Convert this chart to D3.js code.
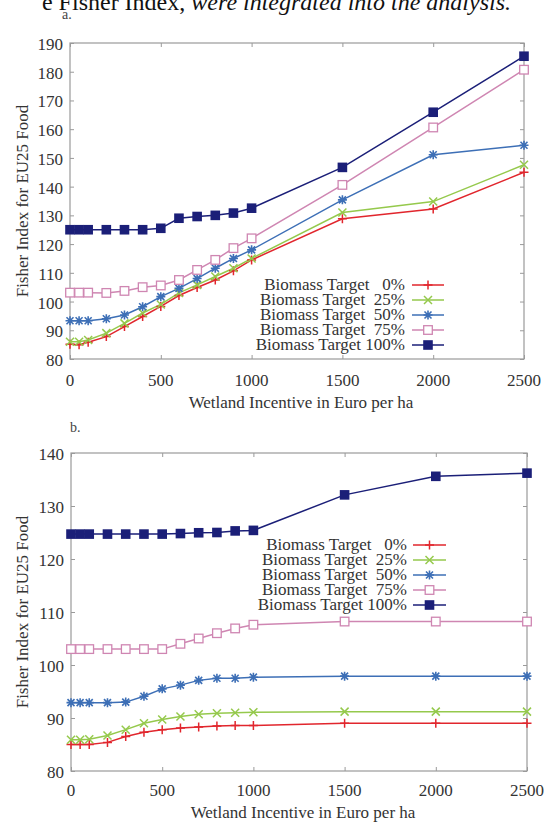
<!DOCTYPE html>
<html>
<head>
<meta charset="utf-8">
<script src="https://cdn.jsdelivr.net/npm/d3@7"></script>
<style>
  html, body { margin: 0; padding: 0; background: #fff; }
  svg { display: block; }
  svg text { font-family: "Liberation Serif", "Times New Roman", "DejaVu Serif", serif; }
</style>
</head>
<body>
<svg id="chart" width="552" height="823"></svg>
<script>
// ---------- DATA ----------
const incentives = [0, 50, 100, 200, 300, 400, 500, 600, 700, 800, 900, 1000, 1500, 2000, 2500];
const seriesNames = ["Biomass Target   0%", "Biomass Target  25%", "Biomass Target  50%", "Biomass Target  75%", "Biomass Target 100%"];
const xTicks = [0, 500, 1000, 1500, 2000, 2500];
const yTicksA = [80, 90, 100, 110, 120, 130, 140, 150, 160, 170, 180, 190];
const yTicksB = [80, 90, 100, 110, 120, 130, 140];

// Panel a
const a0   = [85.1, 85.0, 85.8, 87.8, 91.3, 94.8, 98.3, 102.1, 104.9, 107.5, 110.7, 114.5, 128.8, 132.2, 145.0];
const a25  = [86.0, 86.0, 86.6, 89.0, 92.4, 96.0, 99.0, 103.0, 105.8, 108.7, 111.6, 115.0, 131.0, 134.8, 147.6];
const a50  = [93.3, 93.3, 93.3, 94.0, 95.3, 98.2, 101.7, 104.6, 108.0, 111.6, 115.0, 118.0, 135.4, 151.1, 154.4];
const a75  = [103.1, 103.1, 103.1, 103.0, 103.7, 105.0, 105.6, 107.5, 111.0, 114.5, 118.6, 122.0, 140.6, 160.6, 180.7];
const a100 = [125.0, 125.0, 125.0, 125.0, 125.0, 125.0, 125.5, 129.0, 129.6, 130.0, 130.8, 132.5, 146.7, 165.9, 185.4];

// Panel b
const b0   = [85.0, 85.0, 85.0, 85.4, 86.5, 87.3, 87.8, 88.1, 88.3, 88.5, 88.6, 88.6, 89.0, 89.0, 89.0];
const b25  = [85.9, 85.9, 86.0, 86.7, 87.8, 89.0, 89.7, 90.3, 90.7, 90.9, 91.0, 91.1, 91.2, 91.2, 91.2];
const b50  = [92.9, 92.9, 92.9, 92.9, 93.0, 94.1, 95.5, 96.2, 97.1, 97.5, 97.5, 97.7, 97.9, 97.9, 97.9];
const b75  = [103.0, 103.0, 103.0, 103.0, 103.0, 103.0, 103.0, 104.0, 105.0, 106.0, 106.9, 107.6, 108.2, 108.2, 108.2];
const b100 = [124.7, 124.7, 124.7, 124.7, 124.7, 124.7, 124.7, 124.8, 124.95, 125.0, 125.3, 125.4, 132.1, 135.6, 136.2];

const colors = ["#e1262d", "#95c94c", "#3d6fb6", "#cf86b2", "#1b1f78"];
const markers = ["plus", "cross", "star", "openSquare", "filledSquare"];

// ---------- DRAW ----------
const svg = d3.select("#chart");
const FONT = 17;
const SERIF = "Liberation Serif, Times New Roman, serif";

// cut-off body text at the top
const headText = svg.append("text").attr("x", 511).attr("y", 10).attr("text-anchor", "end")
  .attr("font-family", SERIF).attr("font-size", 24).attr("fill", "#111");
headText.append("tspan").text("e Fisher Index, ");
headText.append("tspan").attr("font-style", "italic").text("were integrated into the analysis.");

function drawMarker(g, type, x, y, color) {
  if (type === "plus") {
    const s = 4.5;
    g.append("path").attr("d", `M${x - s},${y}H${x + s}M${x},${y - s}V${y + s}`)
      .attr("stroke", color).attr("stroke-width", 1.5).attr("fill", "none");
  } else if (type === "cross") {
    const s = 4;
    g.append("path").attr("d", `M${x - s},${y - s}L${x + s},${y + s}M${x - s},${y + s}L${x + s},${y - s}`)
      .attr("stroke", color).attr("stroke-width", 1.5).attr("fill", "none");
  } else if (type === "star") {
    const s = 4.5, d = 3.5;
    g.append("path").attr("d", `M${x - s},${y}H${x + s}M${x},${y - s}V${y + s}M${x - d},${y - d}L${x + d},${y + d}M${x - d},${y + d}L${x + d},${y - d}`)
      .attr("stroke", color).attr("stroke-width", 1.6).attr("fill", "none");
  } else if (type === "openSquare") {
    const s = 4.3;
    g.append("rect").attr("x", x - s).attr("y", y - s).attr("width", 2 * s).attr("height", 2 * s)
      .attr("stroke", color).attr("stroke-width", 1.3).attr("fill", "#fff");
  } else {
    const s = 4.8;
    g.append("rect").attr("x", x - s).attr("y", y - s).attr("width", 2 * s).attr("height", 2 * s)
      .attr("fill", color);
  }
}

function drawPanel(cfg) {
  const { left, right, topY, bottom, yDomain, yTicks, series, label, labelPos, titleY, tickLabelY, legend } = cfg;
  const x = d3.scaleLinear().domain([0, 2500]).range([left, right]);
  const y = d3.scaleLinear().domain(yDomain).range([bottom, topY]);
  const g = svg.append("g").attr("font-family", SERIF);
  const axisColor = "#9a9a9a";

  // frame
  g.append("rect").attr("x", left).attr("y", topY).attr("width", right - left).attr("height", bottom - topY)
    .attr("fill", "none").attr("stroke", axisColor).attr("stroke-width", 1.2);

  // axes with inward ticks
  const tl = 4;
  const bx = g.append("g").attr("transform", `translate(0,${bottom})`)
    .call(d3.axisBottom(x).tickValues(xTicks).tickSize(-tl).tickFormat(""));
  const tx = g.append("g").attr("transform", `translate(0,${topY})`)
    .call(d3.axisTop(x).tickValues(xTicks).tickSize(-tl).tickFormat(""));
  const ly = g.append("g").attr("transform", `translate(${left},0)`)
    .call(d3.axisLeft(y).tickValues(yTicks).tickSize(-tl).tickFormat(""));
  const ry = g.append("g").attr("transform", `translate(${right},0)`)
    .call(d3.axisRight(y).tickValues(yTicks).tickSize(-tl).tickFormat(""));
  [bx, tx, ly, ry].forEach(a => {
    a.select(".domain").remove();
    a.selectAll("line").attr("stroke", axisColor).attr("stroke-width", 1);
  });

  // tick labels
  g.selectAll(".xl").data(xTicks).enter().append("text")
    .attr("x", d => x(d)).attr("y", tickLabelY).attr("text-anchor", "middle")
    .attr("font-family", SERIF).attr("font-size", FONT).attr("fill", "#333").text(d => d);
  g.selectAll(".yl").data(yTicks).enter().append("text")
    .attr("x", left - 7).attr("y", d => y(d) + 7).attr("text-anchor", "end")
    .attr("font-family", SERIF).attr("font-size", FONT).attr("fill", "#333").text(d => d);

  // titles
  g.append("text").attr("x", (left + right) / 2 + 4).attr("y", titleY).attr("text-anchor", "middle")
    .attr("font-family", SERIF).attr("font-size", FONT).attr("fill", "#333").text("Wetland Incentive in Euro per ha");
  g.append("text").attr("transform", `translate(28,${(topY + bottom) / 2}) rotate(-90)`)
    .attr("text-anchor", "middle").attr("font-family", SERIF).attr("font-size", FONT).attr("fill", "#333")
    .text("Fisher Index for EU25 Food");
  g.append("text").attr("x", labelPos[0]).attr("y", labelPos[1]).attr("font-family", SERIF)
    .attr("font-size", 14).attr("fill", "#444").text(label);

  // series
  const line = d3.line().x((d, i) => x(incentives[i])).y(d => y(d));
  series.forEach((vals, si) => {
    g.append("path").datum(vals).attr("d", line).attr("fill", "none")
      .attr("stroke", colors[si]).attr("stroke-width", 1.5);
  });
  series.forEach((vals, si) => {
    const mg = g.append("g");
    vals.forEach((v, i) => drawMarker(mg, markers[si], x(incentives[i]), y(v), colors[si]));
  });

  // legend
  seriesNames.forEach((name, i) => {
    const ry0 = legend.y0 + i * legend.dy;
    g.append("text").attr("x", legend.textX).attr("y", ry0 + 5).attr("text-anchor", "end")
      .attr("font-family", SERIF).attr("font-size", FONT).attr("fill", "#333")
      .style("white-space", "pre").text(name);
    g.append("line").attr("x1", legend.lineX0).attr("x2", legend.lineX1).attr("y1", ry0).attr("y2", ry0)
      .attr("stroke", colors[i]).attr("stroke-width", 1.5);
    drawMarker(g, markers[i], (legend.lineX0 + legend.lineX1) / 2, ry0, colors[i]);
  });
}

drawPanel({
  left: 70, right: 524, topY: 43, bottom: 359,
  yDomain: [80, 190], yTicks: yTicksA,
  series: [a0, a25, a50, a75, a100],
  label: "a.", labelPos: [62, 19],
  tickLabelY: 386, titleY: 408,
  legend: { textX: 405, y0: 285, dy: 15, lineX0: 412, lineX1: 444 }
});

drawPanel({
  left: 71, right: 527, topY: 453, bottom: 771,
  yDomain: [80, 140], yTicks: yTicksB,
  series: [b0, b25, b50, b75, b100],
  label: "b.", labelPos: [70, 432],
  tickLabelY: 796, titleY: 818,
  legend: { textX: 407, y0: 545, dy: 15, lineX0: 413, lineX1: 446 }
});
</script>
</body>
</html>
